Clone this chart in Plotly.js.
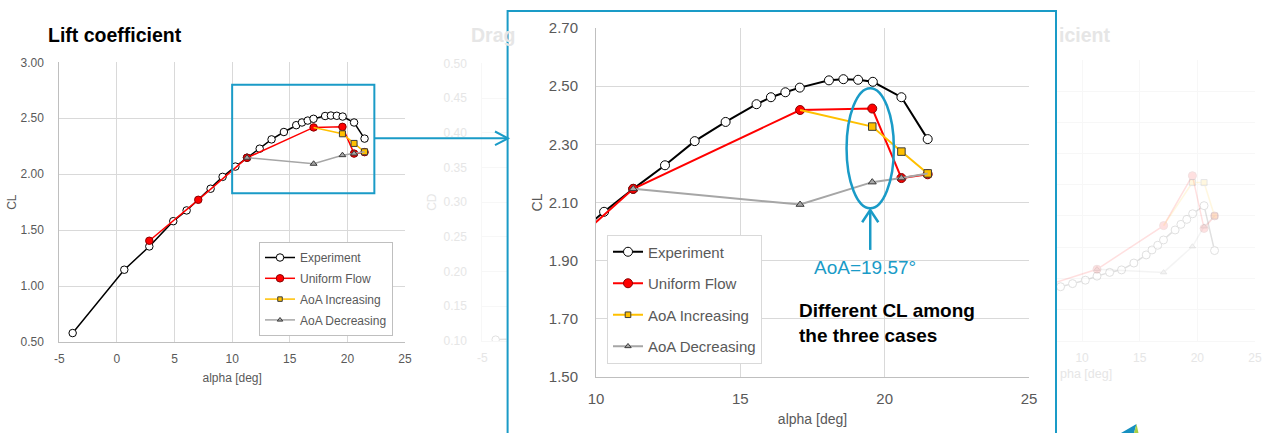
<!DOCTYPE html>
<html>
<head>
<meta charset="utf-8">
<script src="https://cdn.plot.ly/plotly-3.0.1.min.js"></script>
<style>html,body{margin:0;padding:0;background:#fff;}#chart{width:1267px;height:433px;}</style>
</head>
<body>
<div id="chart"></div>
<script>
// ---------- data: lift coefficient (CL) vs angle of attack ----------
const expAlpha = [-3.84, 0.64, 2.81, 4.89, 6.05, 8.13, 9.17, 10.28, 11.29, 12.39, 13.42, 14.49, 15.56, 16.06, 16.56, 17.06, 18.07, 18.57, 19.08, 19.59, 20.58, 21.49];
const expCL    = [0.58, 1.146, 1.354, 1.58, 1.676, 1.87, 1.976, 2.068, 2.147, 2.228, 2.311, 2.377, 2.438, 2.462, 2.479, 2.495, 2.520, 2.524, 2.522, 2.515, 2.462, 2.318];
const uniAlpha = [2.81, 7.06, 11.29, 17.07, 19.57, 20.58, 21.49];
const uniCL    = [1.405, 1.771, 2.147, 2.418, 2.423, 2.184, 2.197];
const incAlpha = [17.07, 19.57, 20.58, 21.49];
const incCL    = [2.418, 2.361, 2.275, 2.200];
const decAlpha = [11.29, 17.07, 19.57, 20.58, 21.49];
const decCL    = [2.147, 2.093, 2.170, 2.184, 2.200];

// faded background chart (drag coefficient, only its left edge is visible)
const dragAlpha = [-3.84, 0.64];
const dragCD    = [0.102, 0.105];

// faded background chart on the right (only its right part is visible)
const rExpAlpha = [6.05, 8.13, 9.17, 10.28, 11.29, 12.39, 13.42, 14.49, 15.56, 16.06, 16.56, 17.06, 18.07, 18.57, 19.08, 19.59, 20.58, 21.49];
const rExpVal   = [0.080, 0.0865, 0.0915, 0.097, 0.1035, 0.1095, 0.1135, 0.1245, 0.1375, 0.1455, 0.153, 0.1615, 0.1775, 0.1865, 0.1945, 0.2035, 0.2165, 0.1445];
const rUniAlpha = [7.06, 11.29, 17.07, 19.57, 20.58, 21.49];
const rUniVal   = [0.0895, 0.1145, 0.1845, 0.2645, 0.180, 0.200];
const rIncAlpha = [17.07, 19.57, 20.58, 21.49];
const rIncVal   = [0.1845, 0.2535, 0.2535, 0.200];
const rDecAlpha = [11.29, 17.07, 19.57, 20.58, 21.49];
const rDecVal   = [0.1145, 0.1095, 0.151, 0.183, 0.200];

// tick labels
const mainXTicks = [-5, 0, 5, 10, 15, 20, 25];
const mainXText  = ['-5', '0', '5', '10', '15', '20', '25'];
const insetXTicks = [10, 15, 20, 25];
const insetXText  = ['10', '15', '20', '25'];

const seriesNames = ['Experiment', 'Uniform Flow', 'AoA Increasing', 'AoA Decreasing'];

// ---------- layout helpers ----------
const W = 1267, H = 433;
const X = p => p / W;
const Y = p => 1 - p / H;
const FONT = 'Liberation Sans, Arial, sans-serif';
const BLUE = '#1a9bc7';
const GRID = '#d9d9d9';
const TXT = '#595959';
const FADE = 0.12;

const sty = {
  exp: {line: {color: '#000000'}, marker: {symbol: 'circle', color: '#ffffff', line: {color: '#000000', width: 1}}},
  uni: {line: {color: '#ff0000'}, marker: {symbol: 'circle', color: '#ff0000', line: {color: '#8b0000', width: 1}}},
  inc: {line: {color: '#ffc000'}, marker: {symbol: 'square', color: '#ffc000', line: {color: '#3a3a3a', width: 1}}},
  dec: {line: {color: '#a6a6a6'}, marker: {symbol: 'triangle-up', color: '#a6a6a6', line: {color: '#3a3a3a', width: 1}}}
};

function mk(key, xs, ys, name, xa, ya, opts) {
  const s = sty[key];
  const n = xs.length;
  let sizes = Array(n).fill(opts.size);
  if (opts.hideFirst) sizes[0] = 0;
  if (opts.hideLast) sizes[n - 1] = 0;
  return {
    type: 'scatter', mode: 'lines+markers', x: xs, y: ys, name: name,
    xaxis: xa, yaxis: ya,
    line: {color: s.line.color, width: opts.lw},
    marker: {symbol: s.marker.symbol, color: s.marker.color, opacity: 1, size: sizes, line: s.marker.line},
    showlegend: !!opts.legend, legend: opts.legend || 'legend',
    legendgroup: opts.group || undefined,
    opacity: opts.opacity || 1,
    cliponaxis: true, hoverinfo: 'skip'
  };
}

const traces = [];
// faded middle (drag) chart
traces.push(mk('exp', dragAlpha, dragCD, seriesNames[0], 'x3', 'y3', {size: 7.5, lw: 1.5, opacity: FADE}));
// faded right chart
traces.push(mk('exp', rExpAlpha, rExpVal, seriesNames[0], 'x4', 'y4', {size: 8, lw: 1.5, opacity: FADE}));
traces.push(mk('uni', rUniAlpha, rUniVal, seriesNames[1], 'x4', 'y4', {size: 8, lw: 1.5, opacity: FADE}));
traces.push(mk('inc', rIncAlpha, rIncVal, seriesNames[2], 'x4', 'y4', {size: 6, lw: 1.5, opacity: FADE, hideFirst: true}));
traces.push(mk('dec', rDecAlpha, rDecVal, seriesNames[3], 'x4', 'y4', {size: 5.5, lw: 1.5, opacity: FADE, hideLast: true}));
// main lift chart
traces.push(mk('exp', expAlpha, expCL, seriesNames[0], 'x', 'y', {size: 7.5, lw: 1.5, legend: 'legend', group: 'a1'}));
traces.push(mk('uni', uniAlpha, uniCL, seriesNames[1], 'x', 'y', {size: 7.5, lw: 1.5, legend: 'legend', group: 'a2'}));
traces.push(mk('inc', incAlpha, incCL, seriesNames[2], 'x', 'y', {size: 6, lw: 1.5, legend: 'legend', group: 'a3', hideFirst: true}));
traces.push(mk('dec', decAlpha, decCL, seriesNames[3], 'x', 'y', {size: 6, lw: 1.5, legend: 'legend', group: 'a4', hideLast: true}));
// zoomed inset
traces.push(mk('exp', expAlpha, expCL, seriesNames[0], 'x2', 'y2', {size: 9, lw: 2, legend: 'legend2', group: 'b1'}));
traces.push(mk('uni', uniAlpha, uniCL, seriesNames[1], 'x2', 'y2', {size: 9, lw: 2, legend: 'legend2', group: 'b2'}));
traces.push(mk('inc', incAlpha, incCL, seriesNames[2], 'x2', 'y2', {size: 7.5, lw: 2, legend: 'legend2', group: 'b3', hideFirst: true}));
traces.push(mk('dec', decAlpha, decCL, seriesNames[3], 'x2', 'y2', {size: 7, lw: 2, legend: 'legend2', group: 'b4', hideLast: true}));

const faintTxt = '#e6e6e6';
const faintGrid = '#f7f7f7';

const layout = {
  width: W, height: H, autosize: false,
  margin: {l: 0, r: 0, t: 0, b: 0},
  paper_bgcolor: '#ffffff', plot_bgcolor: '#ffffff',
  font: {family: FONT, color: TXT},
  hovermode: false,
  xaxis: {
    domain: [X(59.3), X(405)], range: [-5, 25], anchor: 'y',
    tickvals: mainXTicks, ticktext: mainXText, ticks: '', ticklabelstandoff: 6,
    tickfont: {size: 12, color: TXT}, showgrid: true, gridcolor: GRID, gridwidth: 1,
    showline: true, linecolor: '#bfbfbf', linewidth: 1, zeroline: false,
    title: {text: 'alpha [deg]', font: {size: 12, color: TXT}, standoff: 8}
  },
  yaxis: {
    domain: [Y(342), Y(62.3)], range: [0.5, 3.0], dtick: 0.5, tickformat: '.2f', anchor: 'x',
    ticks: '', ticklabelstandoff: 12,
    tickfont: {size: 12, color: TXT}, showgrid: true, gridcolor: GRID,
    showline: true, linecolor: '#bfbfbf', linewidth: 1, zeroline: false,
    title: {text: 'CL', font: {size: 12, color: TXT}, standoff: 1}
  },
  xaxis2: {
    domain: [X(596), X(1029)], range: [10, 25], anchor: 'y2',
    tickvals: insetXTicks, ticktext: insetXText, ticks: '', ticklabelstandoff: 8,
    tickfont: {size: 15, color: TXT}, showgrid: true, gridcolor: GRID,
    showline: true, linecolor: '#bfbfbf', zeroline: false,
    title: {text: 'alpha [deg]', font: {size: 14, color: TXT}, standoff: 8}
  },
  yaxis2: {
    domain: [Y(377), Y(28)], range: [1.5, 2.7], tick0: 1.5, dtick: 0.2, tickformat: '.2f', anchor: 'x2',
    ticks: '', ticklabelstandoff: 14,
    tickfont: {size: 15, color: TXT}, showgrid: true, gridcolor: GRID,
    showline: true, linecolor: '#bfbfbf', zeroline: false,
    title: {text: 'CL', font: {size: 14, color: TXT}, standoff: 2}
  },
  xaxis3: {
    domain: [X(482.3), X(506.5)], range: [-5, -2.9], anchor: 'y3',
    tickvals: [-5], ticktext: ['-5'], ticks: '', ticklabelstandoff: 6,
    tickfont: {size: 12, color: faintTxt}, showgrid: false,
    showline: true, linecolor: faintGrid, zeroline: false
  },
  yaxis3: {
    domain: [Y(341), Y(63.3)], range: [0.10, 0.50], dtick: 0.05, tickformat: '.2f', anchor: 'x3',
    ticks: '', ticklabelstandoff: 12,
    tickfont: {size: 12, color: faintTxt}, showgrid: true, gridcolor: faintGrid,
    showline: true, linecolor: faintGrid, zeroline: false,
    title: {text: 'CD', font: {size: 12, color: faintTxt}, standoff: 4}
  },
  xaxis4: {
    domain: [X(1057), X(1255)], range: [7.82, 25], anchor: 'y4',
    tickvals: insetXTicks, ticktext: insetXText, ticks: '', ticklabelstandoff: 6,
    tickfont: {size: 12, color: faintTxt}, showgrid: true, gridcolor: faintGrid,
    showline: true, linecolor: faintGrid, zeroline: false
  },
  yaxis4: {
    domain: [Y(340.7), Y(60)], range: [0, 0.45], dtick: 0.05, anchor: 'x4',
    showticklabels: false, ticks: '', showgrid: true, gridcolor: faintGrid,
    showline: false, zeroline: false
  },
  legend: {
    x: X(259), y: Y(242), xanchor: 'left', yanchor: 'top',
    bgcolor: '#ffffff', bordercolor: '#bfbfbf', borderwidth: 1,
    font: {size: 12, color: TXT, family: FONT}, tracegroupgap: 1.8, traceorder: 'grouped'
  },
  legend2: {
    x: X(607), y: Y(234.5), xanchor: 'left', yanchor: 'top',
    bgcolor: '#ffffff', bordercolor: GRID, borderwidth: 1,
    font: {size: 15, color: TXT, family: FONT}, tracegroupgap: 9, traceorder: 'grouped'
  },
  shapes: [
    // highlighted region on the main chart
    {type: 'rect', xref: 'x', yref: 'y', x0: 10, x1: 22.34, y0: 1.83, y1: 2.80, line: {color: BLUE, width: 2}, layer: 'above'},
    // connector arrow to the inset
    {type: 'line', xref: 'paper', yref: 'paper', x0: X(374.3), x1: X(507), y0: Y(138.3), y1: Y(138.3), line: {color: BLUE, width: 2}},
    {type: 'path', xref: 'paper', yref: 'paper', path: `M${X(495)},${Y(131.5)} L${X(508)},${Y(138.3)} L${X(495)},${Y(145.1)}`, line: {color: BLUE, width: 2}},
    // inset frame
    {type: 'rect', xref: 'paper', yref: 'paper', x0: X(507.6), x1: X(1056), y0: Y(440), y1: Y(11), line: {color: BLUE, width: 2}},
    // ellipse around AoA = 19.57
    {type: 'circle', xref: 'x2', yref: 'y2', x0: 18.68, x1: 20.32, y0: 2.08, y1: 2.493, line: {color: BLUE, width: 2.5}},
    // arrow pointing to ellipse
    {type: 'line', xref: 'x2', yref: 'y2', x0: 19.5, x1: 19.5, y0: 1.937, y1: 2.072, line: {color: BLUE, width: 2.5}},
    {type: 'path', xref: 'x2', yref: 'y2', path: 'M19.22,2.032 L19.5,2.074 L19.78,2.032', line: {color: BLUE, width: 2.5}},
    // logo corner
    {type: 'path', xref: 'paper', yref: 'paper', path: `M${X(1121)},${Y(433)} L${X(1136.5)},${Y(424)} L${X(1134)},${Y(433)} Z`, fillcolor: '#1690c0', line: {width: 0}},
    {type: 'path', xref: 'paper', yref: 'paper', path: `M${X(1134)},${Y(433)} L${X(1136.5)},${Y(424)} L${X(1138.5)},${Y(433)} Z`, fillcolor: '#a8cf45', line: {width: 0}}
  ],
  annotations: [
    {text: '<b>Lift coefficient</b>', xref: 'paper', yref: 'paper', x: X(46), y: Y(34.5), xanchor: 'left', yanchor: 'middle', showarrow: false, font: {size: 19.5, color: '#000000', family: FONT}},
    {text: '<b>Drag</b>', xref: 'paper', yref: 'paper', x: X(469), y: Y(34.5), xanchor: 'left', yanchor: 'middle', showarrow: false, font: {size: 19.5, color: faintTxt, family: FONT}},
    {text: '<b>icient</b>', xref: 'paper', yref: 'paper', x: X(1057), y: Y(34.5), xanchor: 'left', yanchor: 'middle', showarrow: false, font: {size: 19.5, color: faintTxt, family: FONT}},
    {text: 'pha [deg]', xref: 'paper', yref: 'paper', x: X(1058), y: Y(374), xanchor: 'left', yanchor: 'middle', showarrow: false, font: {size: 12.5, color: faintTxt, family: FONT}},
    {text: 'AoA=19.57°', xref: 'paper', yref: 'paper', x: X(864.5), y: Y(267), xanchor: 'center', yanchor: 'middle', showarrow: false, font: {size: 19, color: BLUE, family: FONT}},
    {text: '<b>Different CL among<br>the three cases</b>', xref: 'paper', yref: 'paper', x: X(797), y: Y(322.5), xanchor: 'left', yanchor: 'middle', align: 'left', showarrow: false, font: {size: 19, color: '#000000', family: FONT}}
  ]
};

Plotly.newPlot('chart', traces, layout, {staticPlot: true, displayModeBar: false});
</script>
</body>
</html>
